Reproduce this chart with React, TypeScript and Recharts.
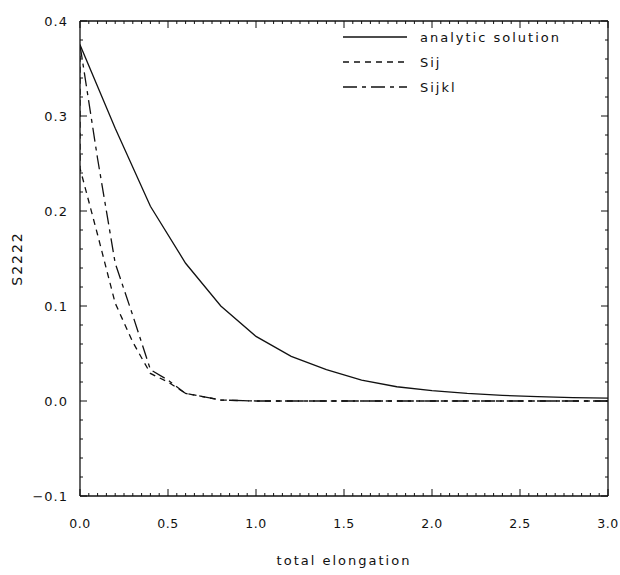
import React from "react";
import { LineChart, Line, XAxis, YAxis, Legend, ReferenceLine } from "recharts";

// analytic curve, sampled every 0.2 of total elongation
const ANALYTIC_X = [0, 0.2, 0.4, 0.6, 0.8, 1.0, 1.2, 1.4, 1.6, 1.8, 2.0, 2.2, 2.4, 2.6, 2.8, 3.0];
const ANALYTIC_Y = [0.375, 0.287, 0.205, 0.145, 0.1, 0.068, 0.047, 0.033, 0.022, 0.015, 0.011, 0.008, 0.006, 0.0045, 0.0035, 0.003];

// Sij drops straight down at x = 0 before decaying
const SIJ_X = [0, 0, 0.1, 0.2, 0.3, 0.4, 0.5, 0.6, 0.8, 1.0, 1.5, 2.0, 2.5, 3.0];
const SIJ_Y = [0.375, 0.245, 0.175, 0.103, 0.062, 0.029, 0.02, 0.008, 0.001, 0, 0, 0, 0, 0];

const SIJKL_X = [0, 0.1, 0.2, 0.3, 0.4, 0.5, 0.6, 0.8, 1.0, 1.5, 2.0, 2.5, 3.0];
const SIJKL_Y = [0.375, 0.255, 0.145, 0.09, 0.033, 0.022, 0.008, 0.001, 0, 0, 0, 0, 0];

// labelled ticks every 0.5 / 0.1, small unlabelled ticks every 0.05 / 0.02
const X_MINOR = Array.from({ length: 61 }, (_, i) => i * 0.05);
const Y_MINOR = Array.from({ length: 26 }, (_, i) => -0.1 + i * 0.02);
const isXMajor = (v: number) => Math.abs(v * 2 - Math.round(v * 2)) < 1e-6;
const isYMajor = (v: number) => Math.abs(v * 10 - Math.round(v * 10)) < 1e-6;

const INK = "#111";
const FONT = "'DejaVu Sans', sans-serif";

const W = 620;
const H = 575;
const M_TOP = 21;
const M_RIGHT = 12;
const X_AXIS_H = 79;
const Y_AXIS_W = 80;
const PLOT_TOP = M_TOP;
const PLOT_BOTTOM = H - X_AXIS_H;
const PLOT_LEFT = Y_AXIS_W;
const PLOT_RIGHT = W - M_RIGHT;

const SERIES = [
  { key: "analytic", label: "analytic solution", xs: ANALYTIC_X, ys: ANALYTIC_Y, dash: undefined },
  { key: "sij", label: "Sij", xs: SIJ_X, ys: SIJ_Y, dash: "6 5" },
  { key: "sijkl", label: "Sijkl", xs: SIJKL_X, ys: SIJKL_Y, dash: "14 5 4 5" },
];

const fmt = (v: number) => {
  const s = (Math.abs(v) < 1e-9 ? 0 : v).toFixed(1);
  return s.startsWith("-") ? "\u2212" + s.slice(1) : s;
};

const textProps = { fontFamily: FONT, fill: INK };

// draws the inward tick on bottom and top edges, plus the label for major ticks
function XTick({ x, payload }: any) {
  const v = payload.value;
  const major = isXMajor(v);
  const len = major ? 7 : 3;
  return (
    <g>
      <line x1={x} x2={x} y1={PLOT_BOTTOM} y2={PLOT_BOTTOM - len} stroke={INK} />
      <line x1={x} x2={x} y1={PLOT_TOP} y2={PLOT_TOP + len} stroke={INK} />
      {major && (
        <text x={x} y={PLOT_BOTTOM + 32} textAnchor="middle" fontSize={12.5} letterSpacing={0.5} {...textProps}>
          {fmt(v)}
        </text>
      )}
    </g>
  );
}

// inward tick on left and right edges, plus label for major ticks
function YTick({ y, payload }: any) {
  const v = payload.value;
  const major = isYMajor(v);
  const len = major ? 7 : 3;
  return (
    <g>
      <line x1={PLOT_LEFT} x2={PLOT_LEFT + len} y1={y} y2={y} stroke={INK} />
      <line x1={PLOT_RIGHT} x2={PLOT_RIGHT - len} y1={y} y2={y} stroke={INK} />
      {major && (
        <text x={PLOT_LEFT - 12} y={y} textAnchor="end" dominantBaseline="central" fontSize={13} letterSpacing={1} {...textProps}>
          {fmt(v)}
        </text>
      )}
    </g>
  );
}

function LegendBox() {
  return (
    <svg width={260} height={70} style={{ display: "block" }}>
      {SERIES.map((s, i) => (
        <g key={s.key}>
          <line x1={0} x2={64} y1={8 + i * 25} y2={8 + i * 25} stroke={INK} strokeWidth={1.3} strokeDasharray={s.dash} />
          <text x={77} y={8 + i * 25} dominantBaseline="central" fontSize={13} letterSpacing={2} {...textProps}>
            {s.label}
          </text>
        </g>
      ))}
    </svg>
  );
}

function YTitle({ viewBox }: any) {
  const x = 17;
  const y = viewBox.y + viewBox.height / 2;
  return (
    <text
      x={x}
      y={y}
      transform={`rotate(-90 ${x} ${y})`}
      textAnchor="middle"
      dominantBaseline="central"
      fontSize={14}
      letterSpacing={2}
      {...textProps}
    >
      S2222
    </text>
  );
}

function XTitle({ viewBox }: any) {
  const x = viewBox.x + viewBox.width / 2;
  const y = viewBox.y + 64;
  return (
    <text x={x} y={y} textAnchor="middle" dominantBaseline="central" fontSize={13} letterSpacing={2} {...textProps}>
      total elongation
    </text>
  );
}

const border = { stroke: INK, strokeWidth: 1.3 };

export default function App() {
  return (
    <div style={{ position: "absolute", left: 0, top: 0 }}>
      <LineChart width={W} height={H} margin={{ top: M_TOP, right: M_RIGHT, left: 0, bottom: 0 }}>
        <XAxis
          xAxisId="x"
          type="number"
          dataKey="x"
          domain={[0, 3]}
          ticks={X_MINOR}
          interval={0}
          tick={<XTick />}
          tickLine={false}
          axisLine={border}
          height={X_AXIS_H}
          label={<XTitle />}
          allowDataOverflow
        />
        <YAxis
          yAxisId="y"
          type="number"
          domain={[-0.1, 0.4]}
          ticks={Y_MINOR}
          interval={0}
          tick={<YTick />}
          tickLine={false}
          axisLine={border}
          width={Y_AXIS_W}
          label={<YTitle />}
          allowDataOverflow
        />
        {/* top and right edges of the frame */}
        <ReferenceLine xAxisId="x" yAxisId="y" y={0.4} stroke={INK} strokeWidth={1.3} />
        <ReferenceLine xAxisId="x" yAxisId="y" x={3} stroke={INK} strokeWidth={1.3} />

        <Legend
          layout="horizontal"
          verticalAlign="middle"
          align="center"
          content={<LegendBox />}
          wrapperStyle={{ left: 343, top: 29, width: 260, height: 70 }}
        />

        {SERIES.map((s) => (
          <Line
            key={s.key}
            xAxisId="x"
            yAxisId="y"
            name={s.label}
            data={s.xs.map((x, i) => ({ x, y: s.ys[i] }))}
            dataKey="y"
            type="linear"
            stroke={INK}
            strokeWidth={1.3}
            strokeDasharray={s.dash}
            dot={false}
            activeDot={false}
            isAnimationActive={false}
          />
        ))}
      </LineChart>
    </div>
  );
}
